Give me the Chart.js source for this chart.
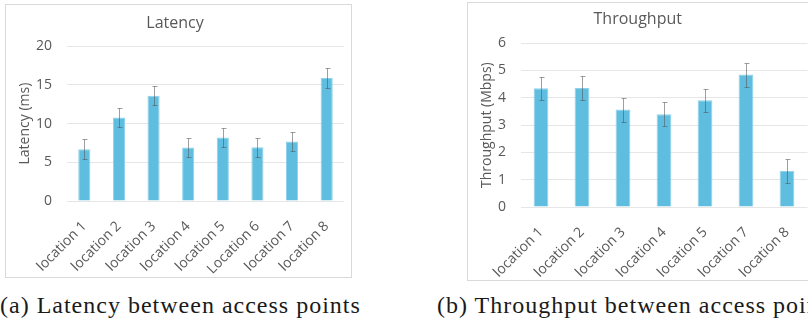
<!DOCTYPE html>
<html>
<head>
<meta charset="utf-8">
<script src="https://cdn.jsdelivr.net/npm/chart.js@4.4.1/dist/chart.umd.min.js"></script>
<style>
  html, body { margin: 0; padding: 0; background: #fff; }
  body { width: 808px; height: 326px; overflow: hidden; position: relative; }
  .box { position: absolute; border: 1px solid #d9d9d9; background: #fff; }
  #boxA { left: 5px; top: 4px; width: 345px; height: 272px; }
  #boxB { left: 467px; top: 2px; width: 345px; height: 277px; }
  .box canvas { display: block; }
  .cap { position: absolute; font-family: "Liberation Serif", "Times New Roman", serif; font-size: 24px; line-height: 24px;
         letter-spacing: 1px; color: #1a1a1a; white-space: nowrap; }
  #capA { left: 0; top: 293px; }
  #capB { left: 437px; top: 293px; }
</style>
</head>
<body>
<div class="box" id="boxA"><canvas id="latencyChart" width="345" height="272"></canvas></div>
<div class="box" id="boxB"><canvas id="throughputChart" width="345" height="277"></canvas></div>
<div class="cap" id="capA">(a) Latency between access points</div>
<div class="cap" id="capB">(b) Throughput between access points</div>

<script>
// latency chart data
const latencyLabels = ["location 1", "location 2", "location 3", "location 4", "location 5", "Location 6", "location 7", "location 8"];
const latencyValues = [6.7, 10.8, 13.6, 6.9, 8.2, 6.95, 7.7, 15.9];
const latencyErrors = [1.25, 1.25, 1.25, 1.25, 1.25, 1.25, 1.25, 1.25];
const latencyTicks = [0, 5, 10, 15, 20];

// throughput chart data
const throughputLabels = ["location 1", "location 2", "location 3", "location 4", "location 5", "location 7", "location 8"];
const throughputValues = [4.35, 4.36, 3.57, 3.4, 3.91, 4.85, 1.33];
const throughputErrors = [0.43, 0.43, 0.44, 0.44, 0.43, 0.44, 0.44];
const throughputTicks = [0, 1, 2, 3, 4, 5, 6];

const textColor = "#595959";
const fontFamily = "'Open Sans', sans-serif";

// draws the +/- error whiskers on top of the bars
const errorBars = {
  id: "errorBars",
  afterDatasetsDraw(chart) {
    const ctx = chart.ctx;
    const y = chart.scales.y;
    const ds = chart.data.datasets[0];
    const meta = chart.getDatasetMeta(0);
    ctx.save();
    ctx.strokeStyle = "rgba(80, 80, 80, 0.55)";
    ctx.lineWidth = 1;
    meta.data.forEach((bar, i) => {
      const x = Math.round(bar.x) + 0.5;
      const top = Math.round(y.getPixelForValue(ds.data[i] + ds.errors[i])) + 0.5;
      const bot = Math.round(y.getPixelForValue(ds.data[i] - ds.errors[i])) + 0.5;
      ctx.beginPath();
      ctx.moveTo(x, top); ctx.lineTo(x, bot);
      ctx.moveTo(x - 2, top); ctx.lineTo(x + 3, top);
      ctx.moveTo(x - 2, bot); ctx.lineTo(x + 3, bot);
      ctx.stroke();
    });
    ctx.restore();
  }
};

function MakeChart(id, title, yTitle, labels, values, errors, ticks, look) {
  const step = ticks[1] - ticks[0];
  return new Chart(document.getElementById(id), {
    type: "bar",
    data: {
      labels,
      datasets: [{
        data: values,
        errors,
        backgroundColor: "#5fbee0",
        borderColor: "#8ed1ea",
        borderWidth: 1,
        barPercentage: look.bar,
        categoryPercentage: 1
      }]
    },
    options: {
      responsive: false,
      animation: false,
      devicePixelRatio: 1,
      layout: { padding: { left: 0, right: look.padRight, top: look.padTop, bottom: 0 } },
      plugins: {
        legend: { display: false },
        tooltip: { enabled: false },
        title: {
          display: true,
          text: title,
          color: textColor,
          font: { family: fontFamily, size: 16, weight: "normal" },
          padding: { top: 0, bottom: look.titleGap }
        }
      },
      scales: {
        x: {
          grid: { display: false },
          border: { display: false },
          ticks: {
            color: textColor,
            font: { family: fontFamily, size: 14 },
            minRotation: 45,
            maxRotation: 45,
            padding: 9,
            autoSkip: false
          },
          afterFit: scale => { scale.height = look.xHeight; }
        },
        y: {
          min: ticks[0],
          max: ticks[ticks.length - 1],
          afterBuildTicks: scale => { scale.ticks = ticks.map(v => ({ value: v })); },
          grid: { color: "#e6e6e6", drawTicks: false },
          border: { display: false },
          ticks: {
            stepSize: step,
            color: textColor,
            font: { family: fontFamily, size: 14 },
            padding: look.tickPad
          },
          title: {
            display: true,
            text: yTitle,
            color: textColor,
            font: { family: fontFamily, size: 14 },
            padding: { top: 11, bottom: 0 }
          },
          afterFit: scale => { scale.width = look.yWidth; }
        }
      }
    },
    plugins: [errorBars]
  });
}

MakeChart("latencyChart", "Latency", "Latency (ms)", latencyLabels, latencyValues, latencyErrors, latencyTicks,
  { bar: 0.35, padRight: 7, padTop: 9, titleGap: 13, xHeight: 76, yWidth: 61, tickPad: 15 });

MakeChart("throughputChart", "Throughput", "Throughput (Mbps)", throughputLabels, throughputValues, throughputErrors, throughputTicks,
  { bar: 0.36, padRight: 5.5, padTop: 7, titleGap: 14, xHeight: 73, yWidth: 52.5, tickPad: 14.5 });
</script>
</body>
</html>
